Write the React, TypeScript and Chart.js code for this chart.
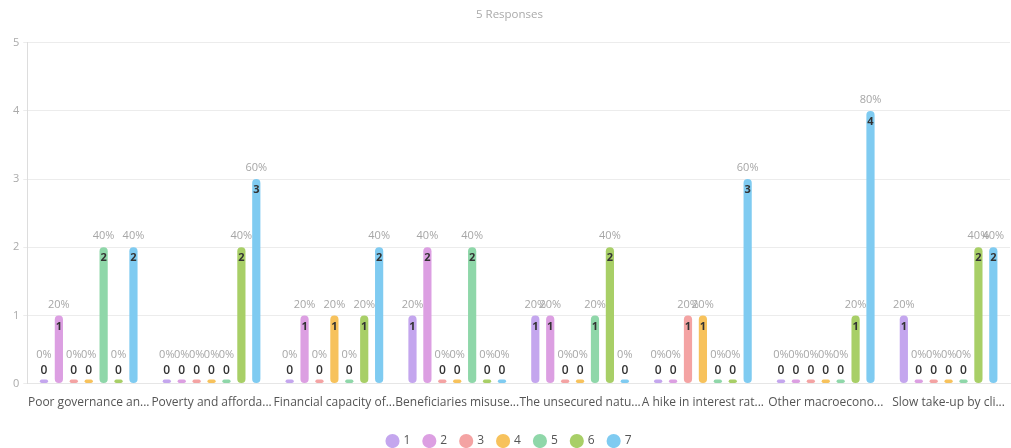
import React, { useEffect, useRef } from "react";
import { Chart, registerables } from "chart.js";

Chart.register(...registerables);

const categories = [
  "Poor governance an...",
  "Poverty and afforda...",
  "Financial capacity of...",
  "Beneficiaries misuse...",
  "The unsecured natu...",
  "A hike in interest rat...",
  "Other macroecono...",
  "Slow take-up by cli...",
];

const seriesNames = ["1", "2", "3", "4", "5", "6", "7"];
const seriesColors = ["#c4a6ee", "#dc9fe2", "#f4a3a3", "#f7c25c", "#8fd7a9", "#a8cf67", "#7fcbf1"];

const s1 = [0, 0, 0, 1, 1, 0, 0, 1];
const s2 = [1, 0, 1, 2, 1, 0, 0, 0];
const s3 = [0, 0, 0, 0, 0, 1, 0, 0];
const s4 = [0, 0, 1, 0, 0, 1, 0, 0];
const s5 = [2, 0, 0, 2, 1, 0, 0, 0];
const s6 = [0, 2, 1, 0, 2, 0, 1, 2];
const s7 = [2, 3, 2, 0, 0, 3, 4, 2];
const seriesValues = [s1, s2, s3, s4, s5, s6, s7];

const totalResponses = 5;
const yTicks = [0, 1, 2, 3, 4, 5];
const titleText = "5 Responses";

const FONT = "'Open Sans', 'Noto Sans', sans-serif";

const labelPlugin = {
  id: "barLabels",
  afterDatasetsDraw(chart: any) {
    const ctx = chart.ctx;
    ctx.save();
    ctx.textAlign = "center";
    ctx.textBaseline = "middle";
    chart.data.datasets.forEach((ds: any, di: number) => {
      const meta = chart.getDatasetMeta(di);
      meta.data.forEach((bar: any, i: number) => {
        const v = ds.data[i];
        const pct = Math.round((v / totalResponses) * 100) + "%";
        const x = bar.x;
        const top = bar.y;
        if (v > 0) {
          ctx.font = `bold 11px ${FONT}`;
          ctx.fillStyle = "#333";
          ctx.fillText(String(v), x, top + 11);
          ctx.font = `11px ${FONT}`;
          ctx.fillStyle = "#a6a6a6";
          ctx.fillText(pct, x, top - 11);
        } else {
          ctx.font = `600 12px ${FONT}`;
          ctx.fillStyle = "#333";
          ctx.fillText("0", x, top - 9);
          ctx.font = `11px ${FONT}`;
          ctx.fillStyle = "#a6a6a6";
          ctx.fillText(pct, x, top - 25);
        }
      });
    });
    ctx.restore();
  },
};

export default function App() {
  const ref = useRef<HTMLCanvasElement>(null);
  useEffect(() => {
    document.body.style.margin = "0";
    const chart = new Chart(ref.current!, {
      type: "bar",
      data: {
        labels: categories,
        datasets: seriesNames.map((n, k) => ({
          label: n,
          data: seriesValues[k],
          backgroundColor: seriesColors[k],
          borderRadius: 4,
          borderSkipped: false,
          minBarLength: 4,
          categoryPercentage: 0.85,
          barPercentage: 0.55,
        })),
      },
      options: {
        responsive: false,
        animation: false,
        layout: { padding: { left: 9, right: 1, top: 0, bottom: -9 } },
        plugins: {
          title: {
            display: true,
            text: titleText,
            color: "#aaaaaa",
            font: { family: FONT, size: 11.5, weight: "normal" },
            padding: { top: 8, bottom: 21 },
          },
          legend: {
            position: "bottom",
            labels: {
              usePointStyle: true,
              pointStyle: "circle",
              boxWidth: 10,
              boxHeight: 10,
              padding: 14,
              color: "#555",
              font: { family: FONT, size: 12 },
            },
          },
          tooltip: { enabled: false },
        },
        scales: {
          x: {
            grid: { display: false },
            border: { color: "#e6e6e6" },
            afterFit: (scale: any) => {
              scale.height += 7;
            },
            ticks: {
              color: "#555",
              font: { family: FONT, size: 12 },
              maxRotation: 0,
              autoSkip: false,
              padding: 4,
            },
          },
          y: {
            min: 0,
            max: 5,
            afterBuildTicks: (axis: any) => {
              axis.ticks = yTicks.map((v) => ({ value: v }));
            },
            grid: { color: "#ececec", tickLength: 4 },
            border: { color: "#dddddd" },
            ticks: { color: "#aaaaaa", font: { family: FONT, size: 11 }, padding: 4 },
          },
        },
      },
      plugins: [labelPlugin],
    } as any);
    return () => chart.destroy();
  }, []);
  return <canvas ref={ref} width={1011} height={448} style={{ display: "block" }} />;
}
